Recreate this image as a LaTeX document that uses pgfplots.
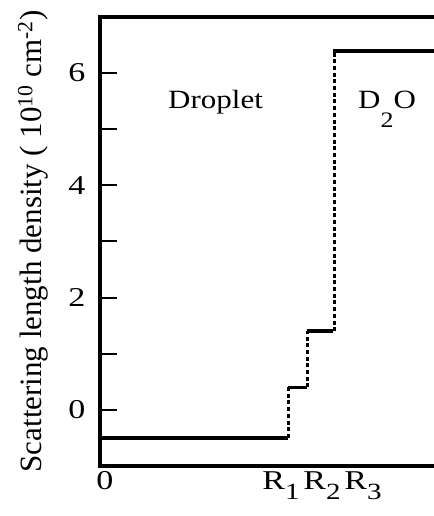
\documentclass[border=0pt]{standalone}
\usepackage{fontspec}
\setmainfont{Liberation Serif}
\usepackage{graphicx}
\usepackage{pgfplots}
\pgfplotsset{compat=1.18}
\newcommand\hs[1]{\scalebox{1}[0.85]{\fontsize{31bp}{36bp}\selectfont #1}}
\newcommand\tl[1]{\scalebox{1}[0.8]{\fontsize{34bp}{38bp}\selectfont #1}}
\newcommand\sub[1]{\raisebox{-0.36em}{\fontsize{29bp}{32bp}\selectfont #1}}
\begin{document}
\begin{tikzpicture}[font=\fontsize{31bp}{36bp}\selectfont]
\begin{axis}[
  scale only axis, width=344bp, height=449bp,
  xmin=0, xmax=344, ymin=-1, ymax=7,
  axis line style={line width=3.2bp},
  tick align=inside,
  ytick={0,1,2,3,4,5,6}, yticklabels={\tl{0},,\tl{2},,\tl{4},,\tl{6}},
  ytick pos=left,
  major tick length=17bp, minor tick length=10bp,
  every tick/.style={black, line width=2bp},
  every minor tick/.style={black, line width=2bp},
  xtick={5,181,222,263},
  xticklabels={\tl{0},\tl{R\sub{1}},\tl{R\sub{2}},\tl{R\sub{3}}},
  x tick style={draw=none},
  minor xtick={188,207,241},
  xtick pos=bottom,
  label style={font=\fontsize{31bp}{36bp}\selectfont},
  xticklabel style={anchor=north, yshift=-2bp},
  yticklabel style={anchor=east, xshift=-11bp},
  ylabel={Scattering length density ( 10\textsuperscript{10} cm\textsuperscript{-2})},
  ylabel style={at={(axis description cs:-0.195,0.5)}, anchor=center},
]
\addplot[line width=4bp] coordinates {(0,-0.5) (188,-0.5)};
\addplot[line width=3bp] coordinates {(188,0.4) (207,0.4)};
\addplot[line width=4bp] coordinates {(207,1.4) (233,1.4)};
\addplot[line width=4bp] coordinates {(233,6.4) (344,6.4)};
\addplot[line width=3bp, dash pattern=on 4bp off 2.7bp] coordinates {(188,-0.5) (188,0.4)};
\addplot[line width=3bp, dash pattern=on 4bp off 2.7bp] coordinates {(207,0.4) (207,1.4)};
\addplot[line width=3bp, dash pattern=on 4bp off 2.7bp] coordinates {(234,1.4) (234,6.4)};
\node[anchor=base west, inner sep=0pt] at (axis cs:68,5.37) {\hs{Droplet}};
\node[anchor=base west, inner sep=0pt] at (axis cs:258,5.37) {\hs{D\raisebox{-0.72em}{\fontsize{26bp}{30bp}\selectfont 2}O}};
\end{axis}
\pgfresetboundingbox
\path[use as bounding box] (current axis.south west) ++(-100bp,-50bp) rectangle ++(434bp,516bp);
\end{tikzpicture}
\end{document}
